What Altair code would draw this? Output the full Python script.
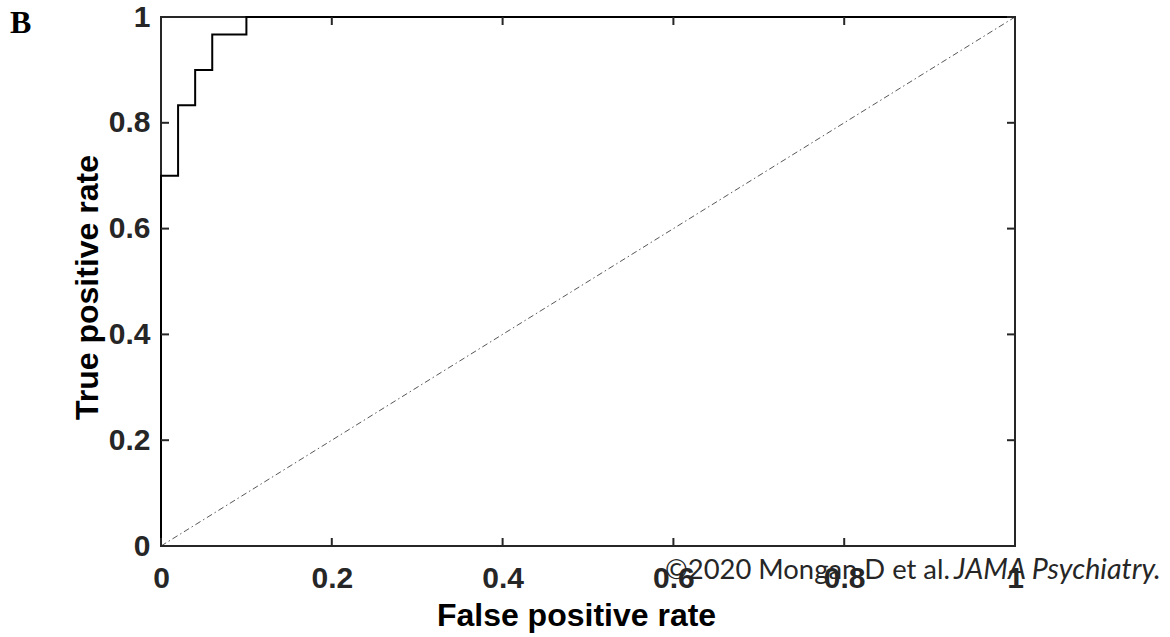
import altair as alt
import pandas as pd

# ---- data ----
fpr = [0.0, 0.0, 0.02, 0.04, 0.06, 0.10, 1.0]
tpr = [0.0, 0.70, 0.833, 0.90, 0.967, 1.0, 1.0]
diag_x = [0.0, 1.0]
diag_y = [0.0, 1.0]
tick_values = [0, 0.2, 0.4, 0.6, 0.8, 1.0]
x_title = "False positive rate"
y_title = "True positive rate"
panel_label = "B"
credit_text = "©2020 Mongan D et al."
credit_italic = "JAMA Psychiatry."

W, H = 854, 529
TICK = 8
AX = "#262626"

roc = pd.DataFrame({"fpr": fpr, "tpr": tpr, "i": list(range(len(fpr)))})
diag = pd.DataFrame({"fpr": diag_x, "tpr": diag_y})
ticks = pd.DataFrame({"v": tick_values})

xs = alt.Scale(domain=[0, 1], nice=False, zero=False)
ys = alt.Scale(domain=[0, 1], nice=False, zero=False)

common = dict(values=tick_values, format="~g", grid=False, domain=False, ticks=False,
              tickSize=0, labelFont="Liberation Sans", labelFontSize=30,
              labelFontWeight="bold", labelColor=AX, titleFont="Liberation Sans",
              titleFontSize=32, titleFontWeight="bold", titleColor="black",
              labelFlush=False, labelOverlap=False, titleBaseline="alphabetic",
              titleAlign="center")
xaxis = alt.Axis(title=x_title, labelPadding=17, titleX=415, titleY=79, **common)
yaxis = alt.Axis(title=y_title, labelPadding=11, titleAngle=270, titleX=-64,
                 titleY=270, **common)


def X(f):
    return alt.X(f, type="quantitative", scale=xs, axis=xaxis)


def Y(f):
    return alt.Y(f, type="quantitative", scale=ys, axis=yaxis)


diag_layer = alt.Chart(diag).mark_line(
    color="#444444", strokeWidth=0.9, strokeDash=[6, 3, 1.5, 3]
).encode(x=X("fpr"), y=Y("tpr"))

roc_layer = alt.Chart(roc).mark_line(
    color="black", strokeWidth=2, interpolate="step-after"
).encode(x=X("fpr"), y=Y("tpr"), order=alt.Order("i:Q"))

tick_style = dict(color=AX, strokeWidth=2)
bottom_ticks = alt.Chart(ticks).mark_rule(**tick_style).encode(
    x=X("v"), y=alt.value(H), y2=alt.value(H - TICK))
top_ticks = alt.Chart(ticks).mark_rule(**tick_style).encode(
    x=X("v"), y=alt.value(0), y2=alt.value(TICK))
left_ticks = alt.Chart(ticks).mark_rule(**tick_style).encode(
    y=Y("v"), x=alt.value(0), x2=alt.value(TICK))
right_ticks = alt.Chart(ticks).mark_rule(**tick_style).encode(
    y=Y("v"), x=alt.value(W), x2=alt.value(W - TICK))

label_layer = alt.Chart(pd.DataFrame({"t": [panel_label]})).mark_text(
    font="Liberation Serif", fontSize=32, fontWeight="bold", color="black",
    align="left", baseline="alphabetic"
).encode(text="t:N", x=alt.value(-151), y=alt.value(16))

credit1 = alt.Chart(pd.DataFrame({"t": [credit_text]})).mark_text(
    font="Lato", fontSize=27.4, color="#262626", align="left", baseline="alphabetic"
).encode(text="t:N", x=alt.value(504), y=alt.value(562))

credit2 = alt.Chart(pd.DataFrame({"t": [credit_italic]})).mark_text(
    font="Lato", fontSize=28.6, fontStyle="italic", color="#262626", align="left",
    baseline="alphabetic"
).encode(text="t:N", x=alt.value(793), y=alt.value(562))

chart = alt.layer(
    diag_layer, roc_layer, bottom_ticks, top_ticks, left_ticks, right_ticks,
    label_layer, credit1, credit2
).properties(
    width=W, height=H,
    autosize=alt.AutoSizeParams(type="none"),
    padding={"left": 161, "top": 17, "right": 155, "bottom": 91},
    background="white",
).configure_view(stroke=AX, strokeWidth=2)

chart.save("out.html", embed_options={"renderer": "svg", "actions": False})
